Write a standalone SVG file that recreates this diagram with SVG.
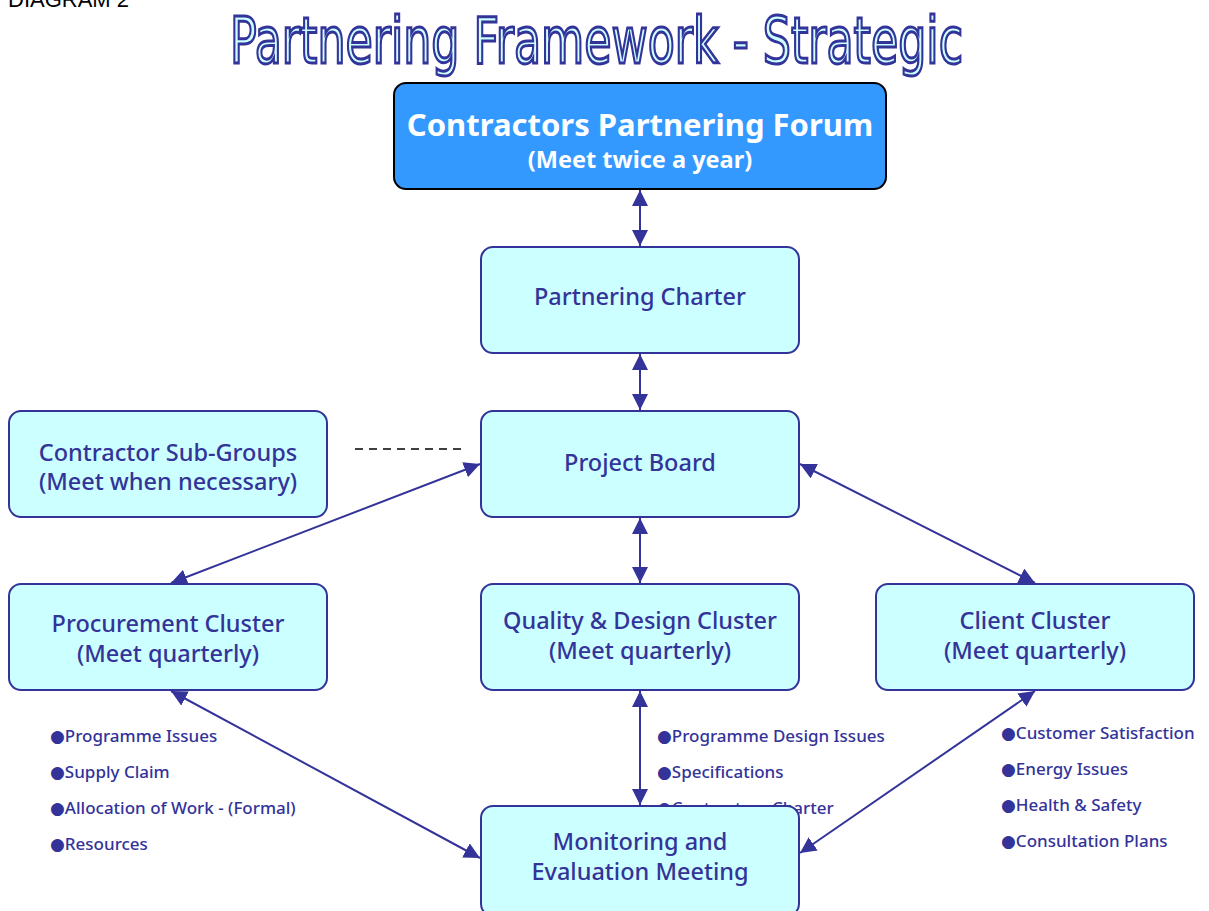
<svg xmlns="http://www.w3.org/2000/svg" width="1209" height="911" viewBox="0 0 1209 911">
<style>
.box{fill:#CCFFFF;stroke:#333399;stroke-width:2}
.lbl{font-family:"Noto Sans","DejaVu Sans",sans-serif;font-size:23.5px;font-weight:500;fill:#333399;text-anchor:middle}
.bul{font-family:"Noto Sans","DejaVu Sans",sans-serif;font-size:17px;font-weight:500;fill:#333399}
.con{stroke:#333399;stroke-width:2;fill:none}
</style>
<defs>
<marker id="ah" viewBox="0 0 16 16" refX="16" refY="8" markerWidth="16" markerHeight="16" markerUnits="userSpaceOnUse" orient="auto-start-reverse">
<path d="M0,0 L16,8 L0,16 Z" fill="#333399"/>
</marker>
</defs>
<rect width="1209" height="911" fill="#fff"/>
<text x="8" y="7" font-family="Liberation Sans, Arial, sans-serif" font-size="22" fill="#000">DIAGRAM 2</text>
<text x="230" y="63" font-family="DejaVu Sans, sans-serif" font-size="64" fill="#CCFFFF" stroke="#333399" stroke-width="3" textLength="733" lengthAdjust="spacingAndGlyphs">Partnering Framework - Strategic</text>

<g id="connectors">
<line class="con" x1="640" y1="190" x2="640" y2="246" marker-start="url(#ah)" marker-end="url(#ah)"/>
<line class="con" x1="640" y1="354" x2="640" y2="410" marker-start="url(#ah)" marker-end="url(#ah)"/>
<line class="con" x1="640" y1="518" x2="640" y2="583" marker-start="url(#ah)" marker-end="url(#ah)"/>
<line class="con" x1="640" y1="691" x2="640" y2="805" marker-start="url(#ah)" marker-end="url(#ah)"/>
<line class="con" x1="480" y1="464" x2="171" y2="583" marker-start="url(#ah)" marker-end="url(#ah)"/>
<line class="con" x1="800" y1="464" x2="1035" y2="583" marker-start="url(#ah)" marker-end="url(#ah)"/>
<line class="con" x1="171" y1="691" x2="480" y2="858" marker-start="url(#ah)" marker-end="url(#ah)"/>
<line class="con" x1="1035" y1="691" x2="800" y2="853" marker-start="url(#ah)" marker-end="url(#ah)"/>
<line x1="355" y1="449" x2="462" y2="449" stroke="#000" stroke-width="1.5" stroke-dasharray="8,6"/>
</g>

<g id="forum">
<rect x="394" y="83" width="492" height="106" rx="12" fill="#3399FF" stroke="#000" stroke-width="2"/>
<text x="640" y="136" font-family="Noto Sans, DejaVu Sans, sans-serif" font-weight="bold" font-size="31" fill="#fff" text-anchor="middle">Contractors Partnering Forum</text>
<text x="640" y="168" font-family="Noto Sans, DejaVu Sans, sans-serif" font-weight="bold" font-size="23.5" fill="#fff" text-anchor="middle">(Meet twice a year)</text>
</g>

<g id="charter">
<rect class="box" x="481" y="247" width="318" height="106" rx="12"/>
<text class="lbl" x="640" y="305">Partnering Charter</text>
</g>

<g id="board">
<rect class="box" x="481" y="411" width="318" height="106" rx="12"/>
<text class="lbl" x="640" y="471">Project Board</text>
</g>

<g id="subgroups">
<rect class="box" x="9" y="411" width="318" height="106" rx="12"/>
<text class="lbl" x="168" y="461">Contractor Sub-Groups</text>
<text class="lbl" x="168" y="490">(Meet when necessary)</text>
</g>

<g id="procurement">
<rect class="box" x="9" y="584" width="318" height="106" rx="12"/>
<text class="lbl" x="168" y="632">Procurement Cluster</text>
<text class="lbl" x="168" y="662">(Meet quarterly)</text>
</g>

<g id="quality">
<rect class="box" x="481" y="584" width="318" height="106" rx="12"/>
<text class="lbl" x="640" y="629">Quality &amp; Design Cluster</text>
<text class="lbl" x="640" y="659">(Meet quarterly)</text>
</g>

<g id="client">
<rect class="box" x="876" y="584" width="318" height="106" rx="12"/>
<text class="lbl" x="1035" y="629">Client Cluster</text>
<text class="lbl" x="1035" y="659">(Meet quarterly)</text>
</g>

<g id="procurement-items">
<text class="bul" x="50" y="742">●Programme Issues</text>
<text class="bul" x="50" y="778">●Supply Claim</text>
<text class="bul" x="50" y="814">●Allocation of Work - (Formal)</text>
<text class="bul" x="50" y="850">●Resources</text>
</g>

<g id="quality-items">
<text class="bul" x="657" y="742">●Programme Design Issues</text>
<text class="bul" x="657" y="778">●Specifications</text>
<text class="bul" x="657" y="814">●Contractors Charter</text>
</g>

<g id="client-items">
<text class="bul" x="1001" y="739">●Customer Satisfaction</text>
<text class="bul" x="1001" y="775">●Energy Issues</text>
<text class="bul" x="1001" y="811">●Health &amp; Safety</text>
<text class="bul" x="1001" y="847">●Consultation Plans</text>
</g>

<g id="monitoring">
<rect class="box" x="481" y="806" width="318" height="110" rx="12"/>
<text class="lbl" x="640" y="850">Monitoring and</text>
<text class="lbl" x="640" y="880">Evaluation Meeting</text>
</g>
</svg>
